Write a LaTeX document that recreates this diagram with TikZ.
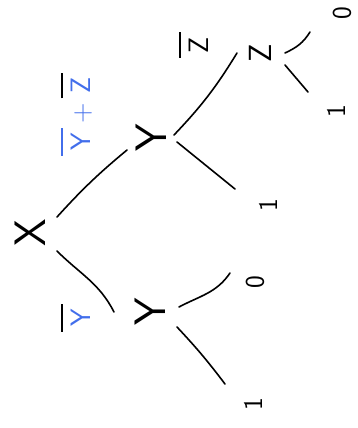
\documentclass[tikz,border=0pt]{standalone}
\usepackage{graphicx}
\definecolor{penblue}{RGB}{66,110,235}
\newlength\ovlw
\newcommand{\ovl}[2]{\settowidth{\ovlw}{#2}\addtolength{\ovlw}{0.35em}%
  \vbox{\offinterlineskip\hbox to\ovlw{\hss{\color{#1}\rule{\ovlw}{1.6pt}}\hss}\kern0.3em\hbox to\ovlw{\hss#2\hss}}}
\tikzset{
  x=1pt, y=-1pt,
  edge/.style={line width=1.6pt, line cap=round, line join=round},
  var/.style={inner sep=0pt, rotate=90, font=\sffamily\fontsize{44}{44}\selectfont},
  smallvar/.style={inner sep=0pt, rotate=90, font=\sffamily\fontsize{32}{32}\selectfont},
  leaf/.style={inner sep=0pt, rotate=90, font=\sffamily\fontsize{27}{27}\selectfont},
  elabel/.style={inner sep=0pt, rotate=90, font=\sffamily\fontsize{28}{28}\selectfont}
}
\begin{document}
\begin{tikzpicture}
\useasboundingbox (0,0) rectangle (358,428);
% nodes
\node[var] (X) at (30,233) {X};
\node[var] (Y1) at (151,138) {Y};
\node[var] (Y2) at (150,312) {Y};
\node[smallvar] (Z) at (260,53) {Z};
\node[leaf] (L0a) at (342,13) {0};
\node[leaf] (L1a) at (336,111) {1};
\node[leaf] (L1b) at (268,205) {1};
\node[leaf] (L0b) at (255,282) {0};
\node[leaf] (L1c) at (253,404) {1};
% edge labels
\node[elabel] (lab1) at (77,114) {\ovl{penblue}{\color{penblue}Y}\,{\color{penblue}+}\,\ovl{black}{\color{penblue}Z}};
\node[elabel] (lab2) at (76,318) {\ovl{black}{\color{penblue}Y}};
\node[elabel] (lab3) at (194,45) {\ovl{black}{Z}};
% connectors
\draw[edge] ([shift={(27,-16)}]X.center) to[bend left=4] ([shift={(-24,12)}]Y1.center);
\draw[edge] ([shift={(27,18)}]X.center) to[out=-45,in=117] ([shift={(-36,0)}]Y2.center);
\draw[edge] ([shift={(23,-3)}]Y1.center) to[bend right=6] ([shift={(-23,0)}]Z.center);
\draw[edge] ([shift={(26,4)}]Y1.center) -- ([shift={(-33,-16)}]L1b.center);
\draw[edge] ([shift={(25,0)}]Z.center) to[out=25,in=238] ([shift={(-32,19)}]L0a.center);
\draw[edge] ([shift={(25,12)}]Z.center) -- ([shift={(-28,-19)}]L1a.center);
\draw[edge] ([shift={(29,-5)}]Y2.center) to[out=28,in=236] ([shift={(-25,-9)}]L0b.center);
\draw[edge] ([shift={(27,15)}]Y2.center) to[bend left=3] ([shift={(-28,-20)}]L1c.center);
\end{tikzpicture}
\end{document}
